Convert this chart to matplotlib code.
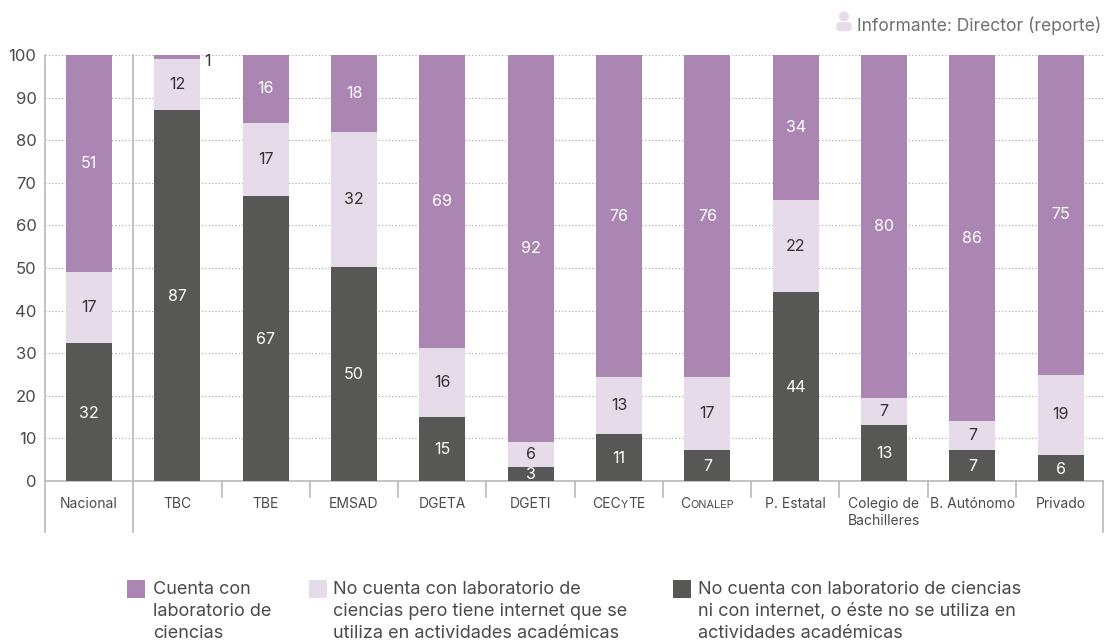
import matplotlib
matplotlib.use("Agg")
import matplotlib.pyplot as plt
from matplotlib.offsetbox import AnnotationBbox, HPacker, TextArea
from matplotlib.patches import Circle, FancyBboxPatch, Rectangle

plt.rcParams['font.family'] = ['Inter', 'DejaVu Sans']

categorias = ["Nacional", "TBC", "TBE", "EMSAD", "DGETA", "DGETI", "CECyTE",
              "Conalep", "P. Estatal", "Colegio de\nBachilleres", "B. Autónomo", "Privado"]

# bar heights
sin_nada = [32.3, 87, 67, 50.2, 15, 3.3, 11, 7.3, 44.3, 13.2, 7.3, 6]
solo_internet = [16.7, 12, 17.1, 31.8, 16.3, 5.9, 13.3, 17, 21.7, 6.3, 6.7, 19]
con_lab = [51, 1, 15.9, 18, 68.7, 90.8, 75.7, 75.7, 34, 80.5, 86, 75]

# printed values
et_sin_nada = [32, 87, 67, 50, 15, 3, 11, 7, 44, 13, 7, 6]
et_solo_internet = [17, 12, 17, 32, 16, 6, 13, 17, 22, 7, 7, 19]
et_con_lab = [51, 1, 16, 18, 69, 92, 76, 76, 34, 80, 86, 75]

leyenda = ["Cuenta con\nlaboratorio de\nciencias",
           "No cuenta con laboratorio de\nciencias pero tiene internet que se\nutiliza en actividades académicas",
           "No cuenta con laboratorio de ciencias\nni con internet, o éste no se utiliza en\nactividades académicas"]

MORADO = "#ab86b2"
LILA = "#e6dbe9"
GRIS = "#575756"
TEXTO = "#4a4a4a"
LINEA = "#b9b9b9"
W, H = 1104, 640

fig = plt.figure(figsize=(W / 100, H / 100), dpi=100)
ax = fig.add_axes([44.8 / W, 1 - 481 / H, 1060 / W, 426 / H])

x = list(range(len(categorias)))
base2 = [a + b for a, b in zip(sin_nada, solo_internet)]
ax.bar(x, sin_nada, width=0.52, color=GRIS, zorder=3)
ax.bar(x, solo_internet, width=0.52, bottom=sin_nada, color=LILA, zorder=3)
ax.bar(x, con_lab, width=0.52, bottom=base2, color=MORADO, zorder=3)

ax.set_xlim(-0.5, 11.5)
ax.set_ylim(0, 100)
ax.set_yticks(range(0, 101, 10))
ax.set_xticks([])
ax.tick_params(axis='y', length=0, labelsize=12, labelcolor=TEXTO, pad=6)
ax.grid(axis='y', color="#a6a6a6", linestyle=(0, (1, 2)), linewidth=0.8, zorder=1)
ax.set_axisbelow(True)
for s in ['top', 'right', 'left']:
    ax.spines[s].set_visible(False)
ax.spines['bottom'].set_color(LINEA)
ax.spines['bottom'].set_linewidth(1.2)

# value labels
for i in x:
    ax.text(i, sin_nada[i] / 2 - 0.2, str(et_sin_nada[i]), color="white", ha='center', va='center',
            fontsize=11.5, zorder=4)
    ax.text(i, sin_nada[i] + solo_internet[i] / 2, str(et_solo_internet[i]), color="#333333",
            ha='center', va='center', fontsize=11.5, zorder=4)
    if con_lab[i] > 5:
        ax.text(i, base2[i] + con_lab[i] / 2, str(et_con_lab[i]), color="white", ha='center', va='center',
                fontsize=11.5, zorder=4)
    else:
        ax.annotate(str(et_con_lab[i]), (i, 100), xytext=(22, -5), textcoords='offset points',
                    color="#333333", ha='center', va='center', fontsize=11.5)

# category labels
for i, c in enumerate(categorias):
    if c == "CECyTE":
        partes = [("CEC", 10), ("Y", 7.8), ("TE", 10)]
    elif c == "Conalep":
        partes = [("C", 10), ("ONALEP", 7.8)]
    else:
        ax.annotate(c, (i, 0), xytext=(0, -11.5), textcoords='offset points', ha='center', va='top',
                    fontsize=10, color=TEXTO, linespacing=1.3, annotation_clip=False)
        continue
    cajas = [TextArea(t, textprops=dict(fontsize=s, color=TEXTO)) for t, s in partes]
    caja = HPacker(children=cajas, align='baseline', pad=0, sep=0)
    ab = AnnotationBbox(caja, (i, 0), xybox=(0, -11.5), boxcoords='offset points',
                        box_alignment=(0.5, 1), frameon=False, annotation_clip=False)
    ax.add_artist(ab)

# overlay in pixel coordinates for separators, legend and informant note
ov = fig.add_axes([0, 0, 1, 1], facecolor='none')
ov.set_xlim(0, W)
ov.set_ylim(H, 0)
ov.axis('off')

paso = (W - 45) / 12
for k in range(13):
    xs = 45 + k * paso
    if k in (0, 1):
        ov.plot([xs, xs], [55, 532], color=LINEA, lw=1.2, zorder=5)
    elif k == 12:
        ov.plot([xs - 0.7, xs - 0.7], [481, 532], color=LINEA, lw=1.2)
    else:
        ov.plot([xs, xs], [481, 497], color=LINEA, lw=1.2)

colores = [MORADO, LILA, GRIS]
xs_ley = [127, 309, 673]
xs_txt = [153, 333, 698]
for xl, xt, col, txt in zip(xs_ley, xs_txt, colores, leyenda):
    ov.add_patch(Rectangle((xl, 580), 18, 18, color=col, lw=0))
    ov.text(xt, 581, txt, ha='left', va='top', fontsize=13, color=TEXTO, linespacing=1.39)

ov.add_patch(Circle((844, 16.5), 5, color=LILA, lw=0))
ov.add_patch(FancyBboxPatch((840, 26), 8, 1.5, boxstyle="round,pad=3.8", color=LILA, lw=0))
ov.text(1101, 26, "Informante: Director (reporte)", ha='right', va='center', fontsize=12.6, color="#707070")

fig.savefig("out.png", dpi=100)
